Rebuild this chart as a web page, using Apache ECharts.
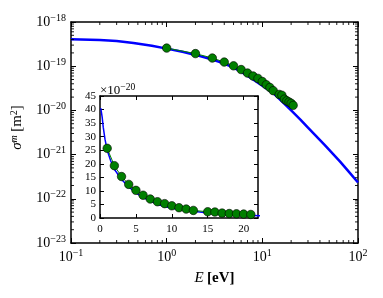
<!DOCTYPE html>
<html><head><meta charset="utf-8">
<script src="https://cdn.jsdelivr.net/npm/echarts@6/dist/echarts.min.js"></script>
<style>html,body{margin:0;padding:0;background:#fff}#c{width:383px;height:298px}</style>
</head><body><div id="c"></div>
<script>
// ---- data ----
const blueE = [0.1, 0.2, 0.3, 0.45, 0.7, 1, 1.5, 2, 3, 4, 5, 6, 8, 10, 13, 16, 20, 25, 30, 45, 65, 80, 100];
const blueSigma = [4.05e-19, 3.9e-19, 3.72e-19, 3.35e-19, 2.9e-19, 2.5e-19, 2.1e-19, 1.8e-19, 1.42e-19, 1.15e-19, 9.3e-20, 7.5e-20, 5.0e-20, 3.6e-20, 2.45e-20, 1.6e-20, 1.0e-20, 6.2e-21, 4.1e-21, 1.64e-21, 6.95e-22, 4.12e-22, 2.34e-22];
const greenE = [1, 2, 3, 4, 5, 6, 7, 8, 9, 10, 11, 12, 13, 15, 16, 17, 18, 19, 20, 21];
const greenSigma = [2.57e-19, 1.93e-19, 1.53e-19, 1.24e-19, 1.02e-19, 8.4e-20, 7.0e-20, 6.0e-20, 5.3e-20, 4.5e-20, 3.8e-20, 3.3e-20, 2.8e-20, 2.3e-20, 2.2e-20, 1.8e-20, 1.65e-20, 1.55e-20, 1.45e-20, 1.3e-20];
// axes are drawn in units of 1e-20 m^2 (ECharts rounds very small numbers)
const unitExp = -20;
const unit = 1e-20;
const mainXMin = 0.1, mainXMax = 100;
const mainYMin = 1e-23 / unit, mainYMax = 1e-18 / unit;
const minorX = [0.2,0.3,0.4,0.5,0.6,0.7,0.8,0.9, 2,3,4,5,6,7,8,9, 20,30,40,50,60,70,80,90];
const minorYMant = [2, 3, 4, 5, 6, 7, 8, 9];
const minorYDecades = [-23, -22, -21, -20, -19];
const insetXMin = 0, insetXMax = 22, insetXStep = 5;
const insetYMin = 0, insetYMax = 45, insetYStep = 5;

const minorY = [];
minorYDecades.forEach(e => minorYMant.forEach(m => minorY.push(m * Math.pow(10, e - unitExp))));

const FONT = 'Liberation Serif';
const rich = {
  n: {fontFamily: FONT, fontSize: 14, color: '#000'},
  sup: {fontFamily: FONT, fontSize: 10, color: '#000', verticalAlign: 'bottom', padding: [0, 0, 8, 0]}
};
function powFmt(e) { return '{n|10}{sup|' + (e < 0 ? '\u2212' + (-e) : e) + '}'; }
const xLabel = v => powFmt(Math.round(Math.log10(v)));
const yLabel = v => powFmt(Math.round(Math.log10(v)) + unitExp);
const lineStyleAx = {color: '#000', width: 1.5};
function mainAxis(pos, min, max, split, show, fmt) {
  return {
    type: 'log', logBase: 10, gridIndex: 0, position: pos, min: min, max: max, splitNumber: split,
    axisLine: {show: true, onZero: false, lineStyle: lineStyleAx},
    axisTick: {show: true, inside: true, length: 5, lineStyle: {color: '#000', width: 1}},
    axisLabel: {show: show, formatter: fmt, rich: rich, margin: 5},
    splitLine: {show: false}
  };
}
function insetAxis(pos, min, max, step, show) {
  return {
    type: 'value', gridIndex: 1, position: pos, min: min, max: max, interval: step,
    axisLine: {show: true, onZero: false, lineStyle: lineStyleAx},
    axisTick: {show: true, inside: true, length: 4, lineStyle: {color: '#000', width: 1}},
    axisLabel: {show: show, fontFamily: FONT, fontSize: 11, color: '#000', margin: 5},
    splitLine: {show: false}
  };
}
const insetXBottom = insetAxis('bottom', insetXMin, insetXMax, insetXStep, true);
insetXBottom.axisLabel.showMaxLabel = false;
insetXBottom.axisLabel.margin = 6;
const insetYLeft = insetAxis('left', insetYMin, insetYMax, insetYStep, true);
insetYLeft.axisLabel.margin = 4;
insetYLeft.name = '{t|\u00d710}{sup|\u221220}';
insetYLeft.nameLocation = 'end';
insetYLeft.nameGap = -3;
insetYLeft.nameTextStyle = {align: 'left', padding: [0, 0, 0, 0], rich: {
  t: {fontFamily: FONT, fontSize: 13, color: '#000'},
  sup: {fontFamily: FONT, fontSize: 9.5, color: '#000', verticalAlign: 'bottom', padding: [0, 0, 7, 0]}
}};
const xAxes = [
  Object.assign(mainAxis('bottom', mainXMin, mainXMax, 3, true, xLabel), {
    name: '{i|E} {b|[eV]}', nameLocation: 'middle', nameGap: 28,
    nameTextStyle: {rich: {
      i: {fontFamily: FONT, fontStyle: 'italic', fontSize: 15, color: '#000'},
      b: {fontFamily: FONT, fontWeight: 'bold', fontSize: 15, color: '#000'}
    }}
  }),
  mainAxis('top', mainXMin, mainXMax, 3, false, xLabel),
  insetXBottom,
  insetAxis('top', insetXMin, insetXMax, insetXStep, false)
];
const yAxes = [
  Object.assign(mainAxis('left', mainYMin, mainYMax, 5, true, yLabel), {
    name: '{i|\u03c3}{s|m} {b|[m}{s2|2}{b|]}', nameLocation: 'middle', nameGap: 45, nameRotate: 90,
    nameTextStyle: {padding: [0, 0, 0, 10], rich: {
      i: {fontFamily: FONT, fontStyle: 'italic', fontSize: 15, color: '#000'},
      s: {fontFamily: FONT, fontStyle: 'italic', fontSize: 10, color: '#000', verticalAlign: 'bottom', padding: [0, 0, 7, 0]},
      s2: {fontFamily: FONT, fontSize: 10, color: '#000', verticalAlign: 'bottom', padding: [0, 0, 7, 0]},
      b: {fontFamily: FONT, fontSize: 15, color: '#000'}
    }}
  }),
  mainAxis('right', mainYMin, mainYMax, 5, false, yLabel),
  insetYLeft,
  insetAxis('right', insetYMin, insetYMax, insetYStep, false)
];

function minorXRender(params, api) {
  const v = api.value(0);
  const pb = api.coord([v, mainYMin]);
  const pt = api.coord([v, mainYMax]);
  const st = {stroke: '#000', lineWidth: 0.9};
  return {type: 'group', children: [
    {type: 'line', shape: {x1: pb[0], y1: pb[1], x2: pb[0], y2: pb[1] - 3}, style: st},
    {type: 'line', shape: {x1: pt[0], y1: pt[1], x2: pt[0], y2: pt[1] + 3}, style: st}
  ]};
}
function minorYRender(params, api) {
  const v = api.value(1);
  const pl = api.coord([mainXMin, v]);
  const pr = api.coord([mainXMax, v]);
  const st = {stroke: '#000', lineWidth: 0.9};
  return {type: 'group', children: [
    {type: 'line', shape: {x1: pl[0], y1: pl[1], x2: pl[0] + 3, y2: pl[1]}, style: st},
    {type: 'line', shape: {x1: pr[0], y1: pr[1], x2: pr[0] - 3, y2: pr[1]}, style: st}
  ]};
}

const blueData = blueE.map((e, i) => [e, blueSigma[i] / unit]);
const greenData = greenE.map((e, i) => [e, greenSigma[i] / unit]);

const chart = echarts.init(document.getElementById('c'), null, {renderer: 'canvas'});
chart.setOption({
  animation: false,
  backgroundColor: '#fff',
  grid: [
    {left: 71, top: 22, width: 287, height: 221, containLabel: false},
    {left: 100, top: 96, width: 158, height: 122, containLabel: false, show: true, backgroundColor: '#fff', borderWidth: 0}
  ],
  xAxis: xAxes,
  yAxis: yAxes,
  series: [
    {type: 'custom', xAxisIndex: 0, yAxisIndex: 0, renderItem: minorXRender, data: minorX.map(v => [v, mainYMin]), silent: true, clip: false, z: 10},
    {type: 'custom', xAxisIndex: 0, yAxisIndex: 0, renderItem: minorYRender, data: minorY.map(v => [mainXMin, v]), silent: true, clip: false, z: 10},
    {type: 'line', xAxisIndex: 0, yAxisIndex: 0, data: blueData, symbol: 'none',
      lineStyle: {color: '#0000ff', width: 2.5}, z: 3},
    {type: 'line', xAxisIndex: 0, yAxisIndex: 0, data: greenData, symbol: 'circle', symbolSize: 8.5,
      lineStyle: {color: '#008000', width: 1},
      itemStyle: {color: '#007f00', borderColor: '#000', borderWidth: 0.6}, z: 4},
    {type: 'line', xAxisIndex: 2, yAxisIndex: 2, data: blueData, symbol: 'none', clip: true,
      lineStyle: {color: '#0000ff', width: 1.5}, z: 5},
    {type: 'line', xAxisIndex: 2, yAxisIndex: 2, data: greenData, symbol: 'circle', symbolSize: 8.5, clip: true,
      lineStyle: {color: '#008000', width: 1},
      itemStyle: {color: '#007f00', borderColor: '#000', borderWidth: 0.6}, z: 6}
  ]
});
</script></body></html>
